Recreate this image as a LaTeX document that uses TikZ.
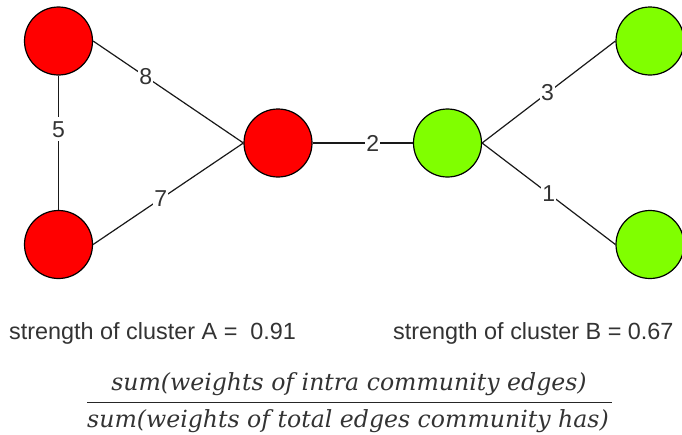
\documentclass[tikz,border=0pt]{standalone}
\usepackage{fontspec}
\setmainfont{Liberation Sans}
\newfontfamily\fracfont{DejaVu Serif}
\definecolor{vgreen}{HTML}{80FF00}
\definecolor{vred}{HTML}{FF0000}
\definecolor{txtgray}{HTML}{333333}
\begin{document}
\begin{tikzpicture}[x=1pt,y=-1pt,
  vtx/.style={circle, draw=black, line width=1.2pt, minimum size=68pt, inner sep=0pt},
  redv/.style={vtx, fill=vred},
  greenv/.style={vtx, fill=vgreen},
  wlabel/.style={fill=white, inner xsep=1pt, inner ysep=4pt, text=txtgray,
    font=\fontsize{23}{23}\selectfont},
  edge/.style={line width=1.2pt, draw=black!90},
  caption/.style={anchor=base west, text=txtgray, font=\fontsize{23.4}{24}\selectfont, inner sep=0pt},
  fracpart/.style={anchor=base, text=txtgray, font=\fracfont\itshape\fontsize{23.6}{24}\selectfont, inner sep=0pt}]
\useasboundingbox (0,0) rectangle (682,434);
\fill[white] (0,0) rectangle (682,434);
% vertices
\node[redv] (a1) at (58.5,41) {};
\node[redv] (a2) at (58.5,244.5) {};
\node[redv] (a3) at (278,143) {};
\node[greenv] (b1) at (447.5,143) {};
\node[greenv] (b2) at (650,41) {};
\node[greenv] (b3) at (650,244.5) {};
% edges
\draw[edge] (a1.east) -- node[wlabel, pos=0.35] {8} (a3.west);
\draw[edge] (a1.south) -- node[wlabel, pos=0.4] {5} (a2.north);
\draw[edge] (a2.east) -- node[wlabel, pos=0.45] {7} (a3.west);
\draw[edge] (a3.east) -- node[wlabel, pos=0.6] {2} (b1.west);
\draw[edge] (b1.east) -- node[wlabel, pos=0.49] {3} (b2.west);
\draw[edge] (b1.east) -- node[wlabel, pos=0.5] {1} (b3.west);
% captions
\node[caption] (sa) at (9,339) {strength of cluster A =\ \ 0.91};
\node[caption] (sb) at (393,339) {strength of cluster B = 0.67};
% fraction
\node[fracpart] (num) at (349,390) {sum(weights of intra community edges)};
\node[fracpart] (den) at (348,427) {sum(weights of total edges community has)};
\coordinate (barl) at (87,402.5);
\coordinate (barr) at (612,402.5);
\draw[line width=1.4pt, black!85] (barl) -- (barr);
\end{tikzpicture}
\end{document}
